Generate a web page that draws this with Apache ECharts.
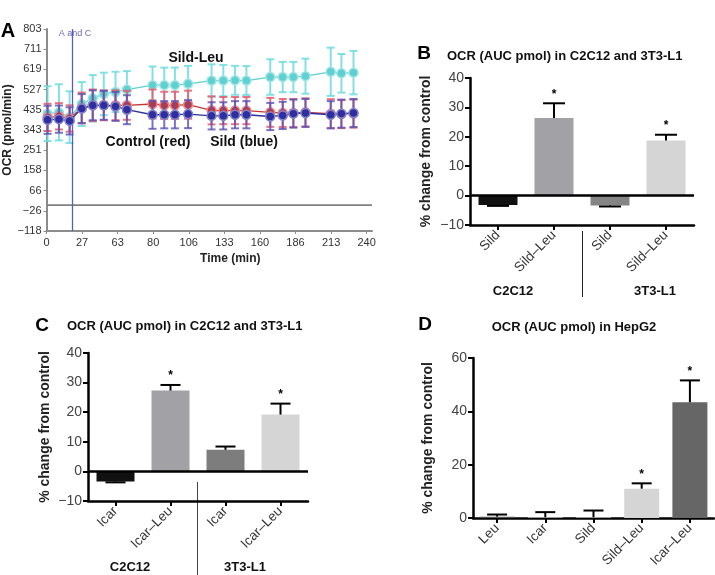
<!DOCTYPE html>
<html><head><meta charset="utf-8">
<script src="https://cdn.jsdelivr.net/npm/echarts@6/dist/echarts.min.js"></script>
<style>html,body{margin:0;padding:0;background:#fff}#c{width:715px;height:575px}</style>
</head><body><div id="c"></div>
<script>
const FONT = '"Liberation Sans", Arial, Helvetica, sans-serif';

// ---------- Panel A (time course) ----------
const aXTickLabels = ['0','27','63','80','106','133','160','186','213','240'];
const aYTickLabels = ['\u2212118','\u221226','66','158','251','343','435','527','619','711','803'];
// measurement positions, in units of the displayed time ticks
const aTimePos = [0.03,0.35,0.65, 0.99,1.30,1.61,1.94,2.26, 2.98,3.31,3.61,3.98, 4.64,4.97,5.30,5.62, 6.29,6.64,6.94,7.28, 7.99,8.29,8.63];
const aSildLeu    = [417,423,401, 461,487,507,516,527, 547,547,547,553, 568,568,569,568, 584,584,584,588, 608,601,604];
const aSildLeuErr = [125,128,118, 100,106,97,92,84, 85,80,80,82, 74,71,66,66, 81,69,69,80, 110,88,99];
const aControl    = [400,405,395, 443,455,455,455,455, 461,455,455,458, 432,431,431,431, 423,420,420,423, 417,415,417];
const aControlErr = [62,60,60, 70,72,68,68,66, 66,62,62,64, 64,62,62,62, 66,64,64,64, 66,64,64];
const aSild       = [389,392,384, 440,455,455,450,435, 412,412,412,415, 407,407,412,412, 404,409,417,420, 412,417,420];
const aSildErr    = [64,62,62, 66,68,66,66,66, 64,62,62,64, 62,62,62,62, 62,62,64,64, 62,64,64];
const aInjectionPos = 0.72;
const aBaseline = 0;
const aXMax = 9.15;

// ---------- Panel B ----------
const bCategories = ['Sild','Sild\u2013Leu','Sild','Sild\u2013Leu'];
const bValues = [-3.2, 26.4, -3.4, 18.7];
const bErrors = [0.3, 5.0, 0.3, 2.0];
const bSignificant = [0,1,0,1];

// ---------- Panel C ----------
const cCategories = ['Icar','Icar\u2013Leu','Icar','Icar\u2013Leu'];
const cValues = [-3.4, 27.3, 7.3, 19.2];
const cErrors = [0.3, 1.9, 1.1, 3.7];
const cSignificant = [0,1,0,1];

// ---------- Panel D ----------
const dCategories = ['Leu','Icar','Sild','Sild\u2013Leu','Icar\u2013Leu'];
const dValues = [0.5, 0.3, 0.3, 11.0, 43.4];
const dErrors = [0.8, 1.9, 2.5, 2.0, 8.2];
const dSignificant = [0,0,0,1,1];

// styles
const bColors = ['#111111','#a2a2a6','#858585','#d5d5d5'];
const cColors = ['#111111','#a2a2a6','#7d7d7d','#d5d5d5'];
const dColors = ['#555555','#bbbbbb','#bbbbbb','#d5d5d5','#666666'];

function zip3(x, y, e){ return x.map((v,i)=>[v, y[i], e[i]]); }
function barRows(vals, errs, sig){ return vals.map((v,i)=>[i, v, errs[i], sig[i]]); }
const minusFmt = (v)=> (v < 0 ? '\u2212' + Math.abs(v) : String(v));

function aErrRender(color){
  return function(params, api){
    const x = api.value(0), y = api.value(1), e = api.value(2);
    const lo = api.coord([x, y - e]), hi = api.coord([x, y + e]);
    const hw = 4;
    const st = {stroke: color, lineWidth: 2};
    return {type:'group', children:[
      {type:'line', shape:{x1:lo[0],y1:lo[1],x2:hi[0],y2:hi[1]}, style:st},
      {type:'line', shape:{x1:lo[0]-hw,y1:lo[1],x2:lo[0]+hw,y2:lo[1]}, style:st},
      {type:'line', shape:{x1:hi[0]-hw,y1:hi[1],x2:hi[0]+hw,y2:hi[1]}, style:st}
    ]};
  };
}
function barErrRender(hw){
  return function(params, api){
    const x = api.value(0), v = api.value(1), e = api.value(2), s = api.value(3);
    const dir = v < 0 ? -1 : 1;
    const p0 = api.coord([x, v]), p1 = api.coord([x, v + dir*e]);
    const st = {stroke:'#000', lineWidth:2};
    const ch = [
      {type:'line', shape:{x1:p0[0],y1:p0[1],x2:p1[0],y2:p1[1]}, style:st},
      {type:'line', shape:{x1:p1[0]-hw,y1:p1[1],x2:p1[0]+hw,y2:p1[1]}, style:st}
    ];
    if (s) ch.push({type:'text', x:p1[0], y:p1[1]-3, style:{text:'*', font:'bold 12px '+FONT, fill:'#000', align:'center', verticalAlign:'bottom'}});
    return {type:'group', children: ch};
  };
}
// horizontal reference line across panel A at the baseline value
function baselineRender(params, api){
  const y = api.value(1);
  const p0 = api.coord([0, y]), p1 = api.coord([aXMax, y]);
  return {type:'line', shape:{x1:p0[0], y1:p0[1], x2:p1[0], y2:p1[1]}, style:{stroke:'#808080', lineWidth:1.6}};
}

const blackAxis = {show:true, onZero:false, lineStyle:{color:'#000', width:2.5}};
const blackTick = {show:true, length:5, lineStyle:{color:'#000', width:2}};
const yNameStyle = {fontFamily:FONT, fontWeight:'bold', fontSize:14, color:'#222'};

function lineSeries(data, color, border, z, extra){
  return Object.assign({type:'line', xAxisIndex:0, yAxisIndex:0, data, symbol:'circle', symbolSize:9,
    lineStyle:{color, width:1.3}, itemStyle:{color, borderColor:border, borderWidth:1.5}, z}, extra || {});
}

const chart = echarts.init(document.getElementById('c'), null, {renderer:'canvas'});
chart.setOption({
  animation:false,
  textStyle:{fontFamily:FONT},
  grid:[
    {left:46.5, top:29, width:325.5, height:202},
    {left:470, top:78, width:224, height:147},
    {left:88, top:353, width:220, height:148},
    {left:473, top:358, width:241, height:160}
  ],
  xAxis:[
    {gridIndex:0, type:'value', min:0, max:aXMax, interval:1,
      name:'Time (min)', nameLocation:'middle', nameGap:22,
      nameTextStyle:{fontFamily:FONT, fontWeight:'bold', fontSize:12, color:'#222', padding:[0,0,0,42]},
      axisLine:{onZero:false, lineStyle:{color:'#8c8c8c', width:2}},
      axisTick:{length:3, lineStyle:{color:'#8c8c8c'}, customValues:[0,1,2,3,4,5,6,7,8,9]},
      axisLabel:{color:'#333', fontSize:11, margin:6, customValues:[0,1,2,3,4,5,6,7,8,9],
        formatter:(v)=> aXTickLabels[Math.round(v)] || ''},
      splitLine:{show:false}},
    {gridIndex:1, type:'category', data:bCategories, axisLine:blackAxis, axisTick:{...blackTick, alignWithLabel:true},
      axisLabel:{color:'#333', fontSize:13.5, rotate:45, margin:8}},
    {gridIndex:2, type:'category', data:cCategories, axisLine:blackAxis, axisTick:{...blackTick, alignWithLabel:true},
      axisLabel:{color:'#333', fontSize:13.5, rotate:45, margin:8}},
    {gridIndex:3, type:'category', data:dCategories, axisLine:blackAxis, axisTick:{...blackTick, alignWithLabel:true},
      axisLabel:{color:'#333', fontSize:13.5, rotate:45, margin:8}}
  ],
  yAxis:[
    {gridIndex:0, type:'value', min:-118, max:803, interval:92.1,
      name:'OCR (pmol/min)', nameLocation:'middle', nameGap:33,
      nameTextStyle:{fontFamily:FONT, fontWeight:'bold', fontSize:12, color:'#222'},
      axisLine:{show:true, onZero:false, lineStyle:{color:'#8c8c8c', width:2}},
      axisTick:{show:true, length:3, lineStyle:{color:'#8c8c8c'}},
      axisLabel:{color:'#333', fontSize:11, margin:5, formatter:(v)=> aYTickLabels[Math.round((v+118)/92.1)] || ''},
      splitLine:{show:false}},
    {gridIndex:1, type:'value', min:-10, max:40, interval:10, name:'% change from control', nameLocation:'middle', nameGap:37,
      nameTextStyle:yNameStyle, axisLine:blackAxis, axisTick:blackTick,
      axisLabel:{color:'#444', fontSize:14, margin:6, formatter:minusFmt}, splitLine:{show:false}},
    {gridIndex:2, type:'value', min:-10, max:40, interval:10, name:'% change from control', nameLocation:'middle', nameGap:36,
      nameTextStyle:yNameStyle, axisLine:blackAxis, axisTick:blackTick,
      axisLabel:{color:'#444', fontSize:14, margin:6, formatter:minusFmt}, splitLine:{show:false}},
    {gridIndex:3, type:'value', min:0, max:60, interval:20, name:'% change from control', nameLocation:'middle', nameGap:38,
      nameTextStyle:yNameStyle, axisLine:blackAxis, axisTick:blackTick,
      axisLabel:{color:'#444', fontSize:14, margin:6}, splitLine:{show:false}}
  ],
  series:[
    {type:'custom', xAxisIndex:0, yAxisIndex:0, renderItem:baselineRender, data:[[aXMax/2, aBaseline]], z:1, silent:true},
    {type:'custom', xAxisIndex:0, yAxisIndex:0, renderItem:aErrRender('rgba(110,220,222,0.85)'), data:zip3(aTimePos,aSildLeu,aSildLeuErr), z:2},
    lineSeries(aTimePos.map((t,i)=>[t,aSildLeu[i]]), '#5fcfcf', '#9fe6e6', 3, {
      markLine:{silent:true, symbol:'none', label:{show:false}, animation:false,
        data:[{xAxis:aInjectionPos, lineStyle:{color:'#5c5cb8', width:1.3, type:'solid'}}]}}),
    {type:'custom', xAxisIndex:0, yAxisIndex:0, renderItem:aErrRender('rgba(226,92,112,0.85)'), data:zip3(aTimePos,aControl,aControlErr), z:4},
    lineSeries(aTimePos.map((t,i)=>[t,aControl[i]]), '#c23838', '#e88a90', 5),
    {type:'custom', xAxisIndex:0, yAxisIndex:0, renderItem:aErrRender('rgba(90,80,180,0.8)'), data:zip3(aTimePos,aSild,aSildErr), z:6},
    lineSeries(aTimePos.map((t,i)=>[t,aSild[i]]), '#2e2e9e', '#8484cc', 7),

    {type:'bar', xAxisIndex:1, yAxisIndex:1, data:bValues, barWidth:39,
      itemStyle:{color:(p)=>bColors[p.dataIndex]},
      markLine:{silent:true, symbol:'none', label:{show:false}, data:[{yAxis:0}], lineStyle:{color:'#000', width:2.5, type:'solid'}}},
    {type:'custom', xAxisIndex:1, yAxisIndex:1, renderItem:barErrRender(11), data:barRows(bValues,bErrors,bSignificant), z:5},

    {type:'bar', xAxisIndex:2, yAxisIndex:2, data:cValues, barWidth:38,
      itemStyle:{color:(p)=>cColors[p.dataIndex]},
      markLine:{silent:true, symbol:'none', label:{show:false}, data:[{yAxis:0}], lineStyle:{color:'#000', width:2.5, type:'solid'}}},
    {type:'custom', xAxisIndex:2, yAxisIndex:2, renderItem:barErrRender(10), data:barRows(cValues,cErrors,cSignificant), z:5},

    {type:'bar', xAxisIndex:3, yAxisIndex:3, data:dValues, barWidth:35,
      itemStyle:{color:(p)=>dColors[p.dataIndex]}},
    {type:'custom', xAxisIndex:3, yAxisIndex:3, renderItem:barErrRender(10), data:barRows(dValues,dErrors,dSignificant), z:5}
  ],
  graphic:[
    {type:'text', x:8, y:31, style:{text:'A', font:'bold 20px '+FONT, fill:'#000', align:'center', verticalAlign:'middle'}},
    {type:'text', x:75, y:34, style:{text:'A and C', font:'9px '+FONT, fill:'#6a6ab8', align:'center', verticalAlign:'middle'}},
    {type:'text', x:196, y:58, style:{text:'Sild-Leu', font:'bold 14px '+FONT, fill:'#111', align:'center', verticalAlign:'middle'}},
    {type:'text', x:148, y:142, style:{text:'Control (red)', font:'bold 14px '+FONT, fill:'#111', align:'center', verticalAlign:'middle'}},
    {type:'text', x:244, y:142, style:{text:'Sild (blue)', font:'bold 14px '+FONT, fill:'#111', align:'center', verticalAlign:'middle'}},

    {type:'text', x:424, y:54, style:{text:'B', font:'bold 19px '+FONT, fill:'#000', align:'center', verticalAlign:'middle'}},
    {type:'text', x:447, y:56, style:{text:'OCR (AUC pmol) in C2C12 and 3T3-L1', font:'bold 13px '+FONT, fill:'#111', align:'left', verticalAlign:'middle'}},
    {type:'text', x:513, y:291, style:{text:'C2C12', font:'bold 13px '+FONT, fill:'#111', align:'center', verticalAlign:'middle'}},
    {type:'text', x:655, y:291, style:{text:'3T3-L1', font:'bold 13px '+FONT, fill:'#111', align:'center', verticalAlign:'middle'}},
    {type:'line', shape:{x1:582.5,y1:231,x2:582.5,y2:297}, style:{stroke:'#222', lineWidth:1}},

    {type:'text', x:42, y:326, style:{text:'C', font:'bold 19px '+FONT, fill:'#000', align:'center', verticalAlign:'middle'}},
    {type:'text', x:67, y:326, style:{text:'OCR (AUC pmol) in C2C12 and 3T3-L1', font:'bold 13px '+FONT, fill:'#111', align:'left', verticalAlign:'middle'}},
    {type:'text', x:130, y:567, style:{text:'C2C12', font:'bold 13px '+FONT, fill:'#111', align:'center', verticalAlign:'middle'}},
    {type:'text', x:245, y:567, style:{text:'3T3-L1', font:'bold 13px '+FONT, fill:'#111', align:'center', verticalAlign:'middle'}},
    {type:'line', shape:{x1:197.5,y1:482,x2:197.5,y2:575}, style:{stroke:'#444', lineWidth:1}},

    {type:'text', x:425, y:325, style:{text:'D', font:'bold 19px '+FONT, fill:'#000', align:'center', verticalAlign:'middle'}},
    {type:'text', x:574, y:327, style:{text:'OCR (AUC pmol) in HepG2', font:'bold 13px '+FONT, fill:'#111', align:'center', verticalAlign:'middle'}}
  ]
});
</script></body></html>
